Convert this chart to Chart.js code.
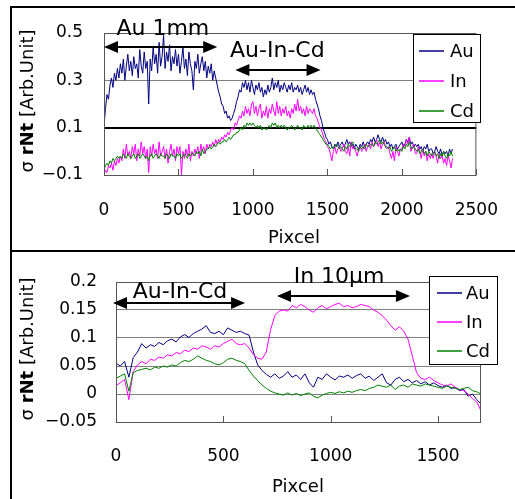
<!DOCTYPE html>
<html>
<head>
<meta charset="utf-8">
<script src="https://cdn.jsdelivr.net/npm/chart.js@4.4.0/dist/chart.umd.min.js"></script>
<style>
  html, body { margin: 0; padding: 0; background: #fff; }
  #page { position: relative; width: 515px; height: 499px; overflow: hidden; }
  .rule { position: absolute; background: #000; }
  .box { position: absolute; left: 0; width: 515px; }
</style>
</head>
<body>
<div id="page">
  <div class="rule" style="left:10px; top:6px; width:2px; height:493px"></div>
  <div class="rule" style="left:10px; top:6px; width:505px; height:2px"></div>
  <div class="rule" style="left:10px; top:250px; width:505px; height:2px"></div>
  <div class="box" style="top:0; height:250px"><canvas id="topChart"></canvas></div>
  <div class="box" style="top:250px; height:249px"><canvas id="bottomChart"></canvas></div>
</div>
<script>
// ---- data: upper panel (Au 1mm / Au-In-Cd), one sample every 10 pixels ----
const stepTop = 10;
const auTop = [
  0.11, 0.18, 0.24, 0.22, 0.28, 0.31, 0.27, 0.33, 0.30, 0.35,
  0.31, 0.37, 0.33, 0.39, 0.30, 0.36, 0.41, 0.34, 0.38, 0.32,
  0.40, 0.35, 0.37, 0.31, 0.43, 0.36, 0.33, 0.42, 0.35, 0.38,
  0.20, 0.39, 0.34, 0.44, 0.37, 0.41, 0.33, 0.46, 0.36, 0.40,
  0.49, 0.35, 0.42, 0.38, 0.45, 0.34, 0.40, 0.37, 0.43, 0.36,
  0.41, 0.33, 0.38, 0.44, 0.35, 0.39, 0.32, 0.42, 0.37, 0.34,
  0.26, 0.38, 0.35, 0.41, 0.33, 0.37, 0.40, 0.34, 0.38, 0.31,
  0.36, 0.33, 0.37, 0.30, 0.34, 0.31, 0.28, 0.25, 0.23, 0.20,
  0.19, 0.16, 0.17, 0.14, 0.15, 0.13, 0.14, 0.16, 0.18, 0.21,
  0.23, 0.26, 0.25, 0.29, 0.27, 0.30, 0.26, 0.29, 0.25, 0.30,
  0.27, 0.24, 0.28, 0.26, 0.29, 0.25, 0.27, 0.23, 0.26, 0.24,
  0.28, 0.25, 0.27, 0.31, 0.26, 0.29, 0.27, 0.30, 0.25, 0.28,
  0.26, 0.29, 0.27, 0.25, 0.28, 0.26, 0.29, 0.25, 0.27, 0.26,
  0.28, 0.25, 0.27, 0.24, 0.26, 0.28, 0.25, 0.27, 0.24, 0.26,
  0.24, 0.25, 0.22, 0.20, 0.18, 0.15, 0.13, 0.10, 0.08, 0.06,
  0.05, 0.03, 0.04, 0.02, 0.01, 0.03, 0.02, 0.04, 0.02, 0.03,
  0.04, 0.02, 0.03, 0.05, 0.03, 0.04, 0.02, 0.03, 0.01, 0.03,
  0.02, 0.01, 0.03, 0.02, 0.04, 0.02, 0.03, 0.04, 0.03, 0.05,
  0.04, 0.06, 0.04, 0.05, 0.07, 0.05, 0.04, 0.06, 0.04, 0.05,
  0.03, 0.04, 0.02, 0.03, 0.01, 0.02, 0.03, 0.01, 0.02, 0.03,
  0.04, 0.02, 0.03, 0.05, 0.04, 0.06, 0.03, 0.04, 0.02, 0.03,
  0.02, 0.03, 0.01, 0.02, 0.00, 0.02, 0.01, 0.03, 0.00, 0.01,
  0.01, -0.01, 0.00, 0.02, 0.00, -0.01, 0.01, -0.02, 0.00, -0.01,
  0.00, -0.02, 0.01, -0.01, 0.01
];
const inTop = [
  -0.10, -0.08, -0.09, -0.06, -0.07, -0.05, -0.08, -0.04, -0.06, -0.03,
  -0.05, -0.02, -0.04, 0.01, -0.03, 0.03, -0.02, 0.00, -0.03, 0.02,
  -0.01, 0.03, -0.04, 0.01, -0.02, 0.04, -0.01, 0.02, -0.03, 0.01,
  -0.09, 0.02, -0.02, 0.03, -0.01, 0.01, -0.03, 0.04, -0.02, 0.00,
  0.02, -0.03, 0.01, -0.05, 0.00, 0.03, -0.02, 0.01, -0.04, 0.02,
  -0.01, 0.02, -0.10, 0.00, -0.03, 0.01, -0.02, 0.03, -0.04, 0.00,
  -0.02, 0.01, -0.01, 0.02, -0.03, 0.03, 0.00, 0.02, -0.01, 0.03,
  0.01, 0.03, 0.02, 0.04, 0.02, 0.05, 0.03, 0.05, 0.04, 0.06,
  0.05, 0.07, 0.06, 0.08, 0.07, 0.09, 0.10, 0.09, 0.12, 0.11,
  0.13, 0.15, 0.14, 0.17, 0.15, 0.19, 0.16, 0.18, 0.15, 0.20,
  0.21, 0.16, 0.19, 0.15, 0.18, 0.20, 0.14, 0.17, 0.15, 0.19,
  0.14, 0.18, 0.16, 0.20, 0.17, 0.15, 0.21, 0.16, 0.19, 0.15,
  0.18, 0.16, 0.19, 0.15, 0.17, 0.14, 0.18, 0.16, 0.20, 0.17,
  0.22, 0.17, 0.19, 0.16, 0.18, 0.15, 0.19, 0.16, 0.18, 0.17,
  0.16, 0.18, 0.15, 0.14, 0.12, 0.10, 0.09, 0.07, 0.05, 0.04,
  0.02, 0.01, -0.01, -0.04, 0.00, 0.02, -0.01, 0.01, 0.02, 0.00,
  0.01, 0.03, 0.00, -0.01, 0.02, -0.02, 0.04, 0.01, 0.02, 0.00,
  -0.02, 0.01, 0.02, 0.00, 0.01, 0.03, 0.00, 0.02, 0.03, 0.01,
  0.04, 0.02, 0.03, 0.05, 0.02, 0.04, 0.01, 0.03, 0.04, 0.02,
  0.01, 0.02, -0.01, -0.03, 0.00, -0.04, 0.02, 0.00, -0.02, 0.01,
  0.01, 0.03, 0.02, 0.05, 0.03, 0.06, 0.00, 0.02, 0.03, -0.01,
  -0.01, 0.02, 0.00, -0.03, 0.01, -0.02, 0.00, -0.04, -0.01, -0.03,
  -0.01, -0.03, 0.00, -0.02, -0.05, -0.01, -0.03, -0.02, -0.05, -0.03,
  -0.06, -0.02, -0.04, -0.07, -0.03
];
const cdTop = [
  -0.08, -0.06, -0.05, -0.06, -0.04, -0.05, -0.03, -0.04, -0.03, -0.02,
  -0.03, -0.02, -0.03, -0.01, -0.02, -0.03, -0.01, -0.02, -0.03, -0.02,
  -0.01, -0.03, -0.02, -0.01, -0.03, -0.02, -0.01, -0.02, -0.03, -0.02,
  -0.04, -0.02, -0.01, -0.03, -0.02, -0.01, -0.02, -0.03, -0.01, -0.02,
  -0.02, -0.03, -0.01, -0.02, -0.03, -0.01, -0.02, -0.02, -0.03, -0.01,
  -0.02, -0.01, -0.03, -0.02, -0.01, -0.02, -0.03, -0.01, -0.02, -0.01,
  -0.01, -0.02, 0.00, -0.01, 0.00, -0.02, 0.01, -0.01, 0.00, 0.01,
  0.01, 0.02, 0.01, 0.02, 0.03, 0.02, 0.03, 0.04, 0.03, 0.04,
  0.04, 0.05, 0.04, 0.05, 0.06, 0.05, 0.06, 0.07, 0.07, 0.08,
  0.08, 0.09, 0.10, 0.09, 0.11, 0.10, 0.12, 0.11, 0.12, 0.11,
  0.12, 0.11, 0.10, 0.11, 0.10, 0.11, 0.09, 0.10, 0.10, 0.09,
  0.10, 0.11, 0.10, 0.12, 0.11, 0.12, 0.10, 0.11, 0.10, 0.11,
  0.10, 0.11, 0.10, 0.09, 0.10, 0.10, 0.11, 0.10, 0.09, 0.10,
  0.11, 0.10, 0.10, 0.09, 0.11, 0.10, 0.10, 0.11, 0.10, 0.11,
  0.10, 0.11, 0.10, 0.09, 0.08, 0.07, 0.06, 0.05, 0.04, 0.03,
  0.03, 0.02, 0.01, 0.02, 0.01, 0.02, 0.03, 0.02, 0.01, 0.02,
  0.01, 0.00, 0.02, 0.01, 0.03, 0.02, 0.03, 0.04, 0.02, 0.01,
  0.01, 0.00, 0.02, 0.01, 0.02, 0.01, 0.03, 0.02, 0.02, 0.03,
  0.03, 0.02, 0.04, 0.03, 0.04, 0.05, 0.03, 0.04, 0.03, 0.02,
  0.02, 0.01, 0.02, 0.00, 0.01, 0.02, 0.00, 0.01, 0.00, 0.01,
  0.00, 0.02, 0.01, 0.03, 0.02, 0.04, 0.02, 0.01, 0.02, 0.01,
  0.00, 0.01, -0.01, 0.00, 0.01, -0.01, 0.00, -0.02, 0.00, -0.01,
  -0.02, -0.01, 0.00, -0.02, -0.01, -0.03, -0.01, -0.02, 0.00, -0.02,
  -0.03, -0.01, -0.02, 0.00, -0.02
];
const pixTop = auTop.map((_, i) => i * stepTop);
const xTicksTop = [0, 500, 1000, 1500, 2000, 2500];
const yTicksTop = [-0.1, 0.1, 0.3, 0.5];

// ---- data: lower panel (Au-In-Cd / In 10um), one sample every 20 pixels ----
const stepBottom = 20;
const auBottom = [
  0.055, 0.050, 0.058, 0.030, 0.065, 0.075, 0.090, 0.082, 0.088, 0.085,
  0.092, 0.088, 0.095, 0.098, 0.093, 0.102, 0.106, 0.101, 0.108, 0.112,
  0.116, 0.122, 0.110, 0.108, 0.112, 0.106, 0.118, 0.114, 0.110, 0.112,
  0.108, 0.105, 0.075, 0.052, 0.042, 0.035, 0.030, 0.036, 0.028, 0.032,
  0.040, 0.030, 0.034, 0.026, 0.036, 0.020, 0.012, 0.030, 0.026, 0.036,
  0.030, 0.025, 0.032, 0.030, 0.034, 0.028, 0.033, 0.036, 0.028, 0.032,
  0.024, 0.030, 0.036, 0.020, 0.016, 0.026, 0.030, 0.022, 0.026, 0.020,
  0.024, 0.018, 0.022, 0.016, 0.020, 0.015, 0.012, 0.016, 0.010, 0.012,
  0.006, 0.008, -0.004, 0.000, -0.010, -0.018
];
const inBottom = [
  0.015, 0.020, 0.026, -0.010, 0.040, 0.052, 0.058, 0.054, 0.062, 0.060,
  0.066, 0.064, 0.070, 0.068, 0.074, 0.072, 0.078, 0.076, 0.082, 0.080,
  0.086, 0.084, 0.080, 0.086, 0.084, 0.090, 0.094, 0.098, 0.090, 0.088,
  0.090, 0.082, 0.070, 0.064, 0.062, 0.075, 0.115, 0.140, 0.148, 0.150,
  0.148, 0.158, 0.154, 0.160, 0.156, 0.150, 0.146, 0.154, 0.158, 0.152,
  0.156, 0.160, 0.162, 0.156, 0.158, 0.154, 0.156, 0.160, 0.158, 0.156,
  0.150, 0.146, 0.140, 0.132, 0.122, 0.114, 0.120, 0.112, 0.098, 0.068,
  0.038, 0.028, 0.026, 0.030, 0.024, 0.020, 0.016, 0.014, 0.018, 0.012,
  0.008, 0.006, 0.000, -0.008, -0.014, -0.030
];
const cdBottom = [
  0.028, 0.032, 0.036, 0.005, 0.038, 0.042, 0.044, 0.046, 0.043, 0.048,
  0.046, 0.050, 0.048, 0.052, 0.050, 0.056, 0.060, 0.058, 0.062, 0.068,
  0.064, 0.060, 0.058, 0.054, 0.052, 0.056, 0.062, 0.064, 0.060, 0.058,
  0.054, 0.042, 0.032, 0.024, 0.016, 0.010, 0.005, 0.002, 0.000, -0.002,
  0.002, -0.002, 0.001, -0.003, 0.000, 0.002, -0.004, -0.007, -0.002, 0.001,
  0.003, 0.001, 0.004, 0.002, 0.005, 0.003, 0.006, 0.008, 0.006, 0.010,
  0.012, 0.016, 0.014, 0.012, 0.016, 0.008, 0.014, 0.016, 0.012, 0.018,
  0.016, 0.014, 0.018, 0.016, 0.014, 0.012, 0.010, 0.014, 0.012, 0.010,
  0.008, 0.010, 0.012, 0.006, 0.004, 0.000
];
const pixBottom = auBottom.map((_, i) => i * stepBottom);
const xTicksBottom = [0, 500, 1000, 1500];
const yTicksBottom = [-0.05, 0, 0.05, 0.1, 0.15, 0.2];

const seriesNames = ["Au", "In", "Cd"];
const seriesColors = ["#000080", "#ff00ff", "#008000"];

const FONT = "'DejaVu Sans', sans-serif";

function fmtTick(v) {
  return String(+v.toFixed(2)).replace("-", "\u2212");
}

function drawArrow(ctx, x0, x1, y) {
  ctx.lineWidth = 2;
  ctx.beginPath();
  ctx.moveTo(x0 + 10, y);
  ctx.lineTo(x1 - 10, y);
  ctx.stroke();
  ctx.beginPath();
  ctx.moveTo(x0, y); ctx.lineTo(x0 + 14, y - 6); ctx.lineTo(x0 + 14, y + 6);
  ctx.closePath(); ctx.fill();
  ctx.beginPath();
  ctx.moveTo(x1, y); ctx.lineTo(x1 - 14, y - 6); ctx.lineTo(x1 - 14, y + 6);
  ctx.closePath(); ctx.fill();
}

// frame, inside ticks, titles, arrows and the boxed legend
const decor = {
  id: "decor",
  afterDraw(chart, args, o) {
    const { ctx, chartArea: a } = chart;
    const x = chart.scales.x, y = chart.scales.y;
    ctx.save();
    ctx.strokeStyle = "#555";
    ctx.lineWidth = 1;
    ctx.strokeRect(a.left + 0.5, a.top + 0.5, a.right - a.left - 1, a.bottom - a.top);
    ctx.beginPath();
    o.xTicks.forEach(v => {
      if (v === 0) return;
      const px = Math.round(x.getPixelForValue(v)) + 0.5;
      ctx.moveTo(px, a.bottom);
      ctx.lineTo(px, a.bottom - 6);
    });
    ctx.stroke();

    ctx.fillStyle = "#000";
    ctx.strokeStyle = "#000";
    // x title
    ctx.font = "18px " + FONT;
    ctx.textAlign = "center";
    ctx.textBaseline = "middle";
    ctx.fillText("Pixcel", o.xTitle.x, o.xTitle.y);
    // y title
    ctx.save();
    ctx.translate(o.yTitle.x, o.yTitle.y);
    ctx.rotate(-Math.PI / 2);
    const parts = [["\u03c3 ", "18px " + FONT], ["rNt", "bold 18px " + FONT], [" [Arb.Unit]", "18px " + FONT]];
    let total = 0;
    parts.forEach(p => { ctx.font = p[1]; total += ctx.measureText(p[0]).width; });
    let cx = -total / 2;
    ctx.textAlign = "left";
    parts.forEach(p => { ctx.font = p[1]; ctx.fillText(p[0], cx, 0); cx += ctx.measureText(p[0]).width; });
    ctx.restore();

    // annotations
    o.arrows.forEach(r => drawArrow(ctx, x.getPixelForValue(r.x0), x.getPixelForValue(r.x1), Math.round(y.getPixelForValue(r.y))));
    ctx.font = "22px " + FONT;
    ctx.textAlign = "center";
    ctx.textBaseline = "middle";
    o.notes.forEach(n => ctx.fillText(n.text, x.getPixelForValue(n.x), y.getPixelForValue(n.y)));

    // legend
    const L = o.legend;
    ctx.fillStyle = "#fff";
    ctx.fillRect(L.left, L.top, L.width, L.height);
    ctx.strokeStyle = "#000";
    ctx.lineWidth = 1;
    ctx.strokeRect(L.left + 0.5, L.top + 0.5, L.width, L.height);
    ctx.font = "18px " + FONT;
    ctx.textAlign = "left";
    ctx.lineWidth = 1.5;
    seriesNames.forEach((name, i) => {
      const ry = L.rows[i];
      ctx.strokeStyle = seriesColors[i];
      ctx.beginPath();
      ctx.moveTo(L.lineX0, ry);
      ctx.lineTo(L.lineX1, ry);
      ctx.stroke();
      ctx.fillStyle = "#000";
      ctx.fillText(name, L.textX, ry + 1);
    });
    ctx.restore();
  }
};

function makeChart(id, cfg) {
  return new Chart(document.getElementById(id), {
    type: "line",
    data: {
      labels: cfg.pix,
      datasets: cfg.series.map((vals, i) => ({
        label: seriesNames[i],
        data: vals,
        borderColor: seriesColors[i],
        borderWidth: 1,
        pointRadius: 0,
        tension: 0,
        fill: false,
        order: 2 - i
      }))
    },
    options: {
      responsive: true,
      maintainAspectRatio: false,
      animation: false,
      events: [],
      layout: { padding: cfg.padding },
      plugins: { legend: { display: false }, tooltip: { enabled: false }, decor: cfg.decor },
      scales: {
        x: {
          type: "linear", min: 0, max: cfg.xMax,
          afterFit: s => { s.height = cfg.xAxisHeight; },
          afterBuildTicks: s => { s.ticks = cfg.xTicks.map(v => ({ value: v })); },
          grid: { display: false },
          border: { display: false },
          ticks: { color: "#000", font: { family: FONT, size: 17 }, padding: cfg.xPad, maxRotation: 0, autoSkip: false, callback: v => String(v) }
        },
        y: {
          min: cfg.yTicks[0], max: cfg.yTicks[cfg.yTicks.length - 1],
          afterFit: s => { s.width = cfg.yAxisWidth; },
          afterBuildTicks: s => { s.ticks = cfg.yTicks.map(v => ({ value: v })); },
          grid: { color: cfg.gridColor, lineWidth: cfg.gridWidth, drawTicks: false },
          border: { display: false },
          ticks: { color: "#000", font: { family: FONT, size: 17 }, padding: cfg.yPad, callback: v => fmtTick(v) }
        }
      }
    },
    plugins: [decor]
  });
}

makeChart("topChart", {
  pix: pixTop,
  series: [auTop, inTop, cdTop],
  xMax: 2500, xTicks: xTicksTop, yTicks: yTicksTop,
  padding: { top: 33, right: 31, left: 0, bottom: 0 },
  xAxisHeight: 75, yAxisWidth: 104, xPad: 17, yPad: 21,
  gridColor: c => (c.tick && c.tick.value === 0.1 ? "#000" : "#808080"),
  gridWidth: c => (c.tick && c.tick.value === 0.1 ? 2 : 1),
  decor: {
    xTicks: xTicksTop,
    xTitle: { x: 294, y: 238 },
    yTitle: { x: 28, y: 101 },
    arrows: [{ x0: 0, x1: 760, y: 0.44 }, { x0: 882, x1: 1454, y: 0.343 }],
    notes: [{ text: "Au 1mm", x: 395, y: 0.517 }, { text: "Au-In-Cd", x: 1164, y: 0.423 }],
    legend: { left: 413, top: 34, width: 67, height: 88, rows: [51, 81, 111], lineX0: 419, lineX1: 444, textX: 450 }
  }
});

makeChart("bottomChart", {
  pix: pixBottom,
  series: [auBottom, inBottom, cdBottom],
  xMax: 1700, xTicks: xTicksBottom, yTicks: yTicksBottom,
  padding: { top: 32, right: 34, left: 0, bottom: 0 },
  xAxisHeight: 77, yAxisWidth: 116, xPad: 16, yPad: 19,
  gridColor: "#808080",
  gridWidth: 1,
  decor: {
    xTicks: xTicksBottom,
    xTitle: { x: 298, y: 237 },
    yTitle: { x: 28, y: 99 },
    arrows: [{ x0: -14, x1: 601, y: 0.1625 }, { x0: 750, x1: 1369, y: 0.175 }],
    notes: [{ text: "Au-In-Cd", x: 298, y: 0.182 }, { text: "In 10\u03bcm", x: 1039, y: 0.209 }],
    legend: { left: 429, top: 26, width: 68, height: 88, rows: [43, 72, 101], lineX0: 437, lineX1: 462, textX: 466 }
  }
});
</script>
</body>
</html>
